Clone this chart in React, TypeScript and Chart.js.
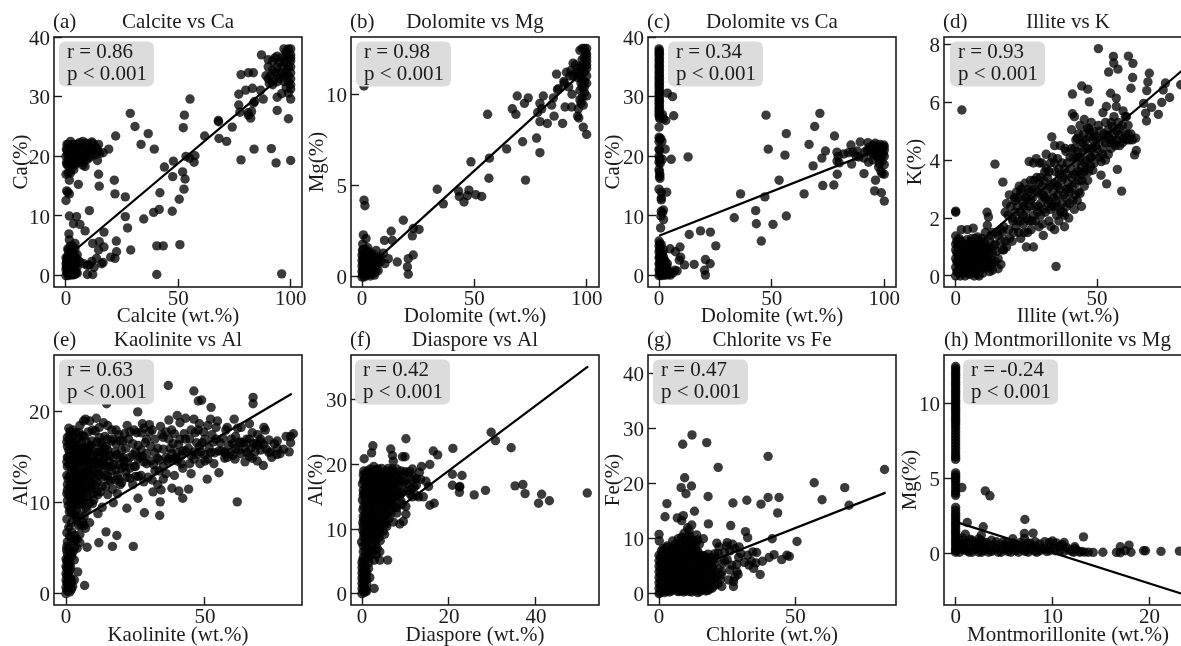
import React, { useEffect, useRef } from "react";
import { Chart, registerables } from "chart.js";

Chart.register(...registerables);

type Pair = [number, number];

const calciteCa: Pair[] = [
  [28.6,27.2],[30.7,25],[36.6,23.8],[33.4,22],[39.3,21.2],[22.1,23.4],[55.2,29.6],[52.7,26.9],[52.2,24.8],[61.7,23.4],[67.8,26],[67.9,25.8],[74,24.9],[68.1,23],[71.5,22.5],[77.9,19.4],[83.7,21.2],[91.4,21.3],[93.5,18.9],[100,19.3],[96,0.3],[99,26.3],[94,27.7],[100,29.6],[96,30.5],[94,29.9],[87.8,29.6],[83.4,28.9],[84,29.2],[77.9,33.7],[81.2,34],[83.4,34],[76.9,30.4],[80,31.1],[83,31.4],[86.6,31.1],[76.9,28.6],[77.4,27.4],[81.2,26.9],[82.6,27.5],[82.2,26.4],[81,27.3],
  [87,37],[90,36.2],[92,36],[94,36.8],[96,36.5],[97,38],[98,37.5],[99,38],[100,38],[100,37],[99,36.5],[100,36],[98,35.5],[96,35],[94,35],[92,34.5],[91,33.5],[90,33],[92,32.5],[94,32.5],[89,33.5],[92,32],[95,33],[97,33.5],[98,34],[100,35],[100,34],[100,33],[99,32.5],[100,32],[98,31.5],[100,31.3],[99,30.6],[97,32.5],[96,34],[94,33.8],[93,34],[90,35],[98,37],[95,35.8],[97,36],[100,36.5],[99,35],[99,33.5],[93,36.5],[90.5,32.2],
  [47.8,19.2],[43.8,18.2],[47.5,16.6],[51.9,17.4],[53,16.2],[52.5,14.5],[53.4,20],[57.4,20.1],[55,19.7],[57,19],[50.4,12.8],[41.8,13.9],[41.5,11.1],[39,10.6],[47.3,10.8],[34.6,9.5],[26.4,13.2],[21.8,13.7],[21.5,16],[14.5,17],[14.8,15],[14,19.3],[5.5,15.3],[10.4,10.9],[26.4,9.9],[27.4,8],[28.8,4.3],[22.4,5.8],[40.4,5],[43.3,5],[50.7,5.2],[40.4,0.2],
  [1.5,10],[4.7,9.9],[3.3,8.7],[6.2,8.6],[8.5,7.5],[16.9,7.3],[11.9,5.4],[14.8,5.7],[16.9,4.8],[14.5,4.3],[22.5,4],[19.9,3.1],[21.8,2.9],[15.9,2],[13.6,2.9],[11.5,2.4],[9.5,0.2],[11.9,0.2],[9.5,1.7],[6.2,2.3],[8,2],[16.5,2.2],[12.5,1.4],[10.5,1.8],
  [0.5,21],[1,22],[1.5,21.5],[2,22.5],[2.5,21],[3,20],[3.5,22],[4,21.3],[4.5,20.5],[5,22],[5.5,21],[6,20],[6.5,22],[7,21.5],[7.5,22.5],[8,20.5],[8,19.2],[9,21],[9.5,19.5],[10,22],[10.5,20.8],[11.5,22.4],[12,21],[12.5,20.2],[13.5,21.5],[14.5,22],[15,20.5],[16.5,20.6],[19,21.2],[0,20],[0.3,19],[0.3,18.7],[1.5,20],[2,19],[3,18.5],[3.5,17.8],[7.5,18.5],[8.5,18.3],[6,19],[5,19.5],[0,17],[1,17.2],[1.5,16],[2,17.2],[0.3,14.2],[0.8,14],[1.5,13.7],[0,12.6],
  [0.8,20.3],[1.8,20.8],[2.8,22],[3.2,19.3],[4.2,21.9],[4.8,19],[5.7,20.2],[6.3,21],[7,19.5],[7.8,21],[8.8,20],[9.3,20.6],[10.5,19.8],[11,21.5],[13,20.5],[14.2,20.9],[0.4,22],[0.2,21.2],[1,18.4],[1.2,19.2],[2.4,18],[2.3,20],[4.2,18.7],[4,20],[6,22.3],[9,22.2],[12,22.2],
  [1.3,7],[1.5,6],[2,5],[1,4.2],[3,5],[4,4.5],[3.5,3.5],[5,3.5],[5.5,2.5],[5,1.5],[5,0.4],[4,0.2],[0,0],[0,1],[0,2],[0.5,0.5],[0.5,1.5],[0.5,2.7],[1,0],[1,1],[1,2],[1,3],[1.5,0.5],[1.5,1.5],[1.5,2.5],[2,0.3],[2,1.2],[2,2],[2,3.2],[2.5,0.8],[2.5,1.7],[3,0.3],[3,1],[3,2.5],[3.5,0.2],[3.5,1.5],[4,1],[4,2.2],[4.5,0.5],[4.5,3],[0,3],[3,4.2],[4,5.4],
  [0.8,4.5],[1.8,3.8],[2.7,4.4],[0.2,1.4],[1.2,0.4],[3.3,2.8],[2.3,2.7],[3.8,3],[4.3,1.8],[0.3,2.3],[0.8,3.3],[1.7,1],[2.7,0.1],[3.7,0.7]
];

const dolomiteMg: Pair[] = [
  [0.9,10.45],[55.9,8.9],[69.1,9.9],[74,9.8],[72.3,9.5],[66.9,9.2],[68.5,8.9],[79.2,9.5],[80.7,9.9],[80,9.2],[78.2,9],[79.2,8.5],[82.5,8.4],[85.2,9.8],[84.4,9.4],[85.5,8.8],[89.3,8.4],[86.6,11.1],[87.4,10.3],[89.9,10.7],[91,11.2],[90.4,9.3],[93.3,9.3],[96.3,9.2],[96,8.8],[96.5,8.7],[98.5,9.4],[100,9.9],[98.5,8.2],[100,7.8],[93.5,10],[77.7,7.6],[79.2,6.8],[71.5,7.4],[64.4,7],[72.8,5.3],[56.7,6.5],[48.5,6.3],[56.5,5.4],[33.5,4.8],[43,4.7],[47.6,4.75],[50.7,4.5],[53.3,4.4],[43.3,4.4],[46.9,4.45],[45.4,4.1],[36.2,4],[18.4,3.1],[22.8,2.65],[25.4,2.6],[22.4,2.25],[13,2.5],[13.5,2],[10,2],[9.5,1.3],[11.7,1],[10.2,0.73],[15.7,0.82],[22.8,1.2],[20.6,1],[20.2,0.55],[20.6,0.15],[0.9,4.2],[1.3,3.9],[0.6,2.3],[1.8,2.1],[0.3,1.8],
  [97,12.4],[98,12.5],[99,12.5],[100,12.5],[100,12.2],[99,12],[98,11.9],[100,11.8],[99,11.5],[100,11.4],[98,11.3],[96,11.2],[94,11.7],[93,11.3],[95,11.6],[92.5,11],[94,11],[96,10.9],[97,11],[98,10.8],[100,11],[99,10.7],[98,10.4],[97,10.2],[99,10.1],[92,10.4],[90,10.6],[97,9.7],[98,9.8],[97.5,9.5],[87,10.25],[100,12],[100,11.6],[99,11.2],[98,11.6],[99.5,12.3],[97,11.5],[99,10.4],[100,10.6],[97.5,10.6],[95,11.2],
  [0,0],[0,0.3],[0,0.6],[0,0.9],[0,1.2],[0.5,1.5],[0.3,0.15],[0.7,0.5],[0.7,0.85],[0.9,1.25],[1,0],[1.2,0.3],[1.3,0.7],[1.4,1.05],[1.5,1.5],[2,0.1],[2.1,0.5],[2.2,0.85],[2.3,1.2],[2.6,1.6],[2.9,0.3],[3,0.7],[3.1,1],[3.3,1.35],[3.7,0.05],[3.9,0.45],[4,0.85],[4.2,1.2],[4.8,0.4],[5,0.8],[5,1.25],[5.6,0.1],[5.8,0.6],[6,1],[6.3,1.45],[7,0.7],[7.3,1],[8,1.1],[8.4,0.85],[1.7,1.3],[0.2,1.45],
  [0.4,0.4],[0.4,0.75],[0.4,1.05],[1,0.15],[1,0.55],[1,0.95],[1.7,0.2],[1.7,0.6],[1.7,0.95],[2.4,0.3],[2.5,0.7],[2.6,1.05],[3.3,0.15],[3.4,0.55],[3.5,0.9],[4.3,0.25],[4.4,0.6],[4.6,1],[5.2,0.2],[5.3,0.6],[5.4,1.05],[6.2,0.35],[6.5,0.8],[7.2,0.35]
];

const dolomiteCa: Pair[] = [
  [0,38],[0,37.4],[0,36.8],[0,36.1],[0,35.4],[0,34.8],[0,34.1],[0,33.4],[0,32.8],[0,32.1],[0,31.5],[0,30.8],[0,30.2],[0,29.5],[0,28.9],[0,28.2],[0,27.5],[0,26.9],[0.3,26.3],[0,24.9],[0,23.2],[0,22.5],[0,21.2],[0,20],[0.4,19.5],[0,19],[0.5,18.8],[0,17.8],[0.4,16.9],[0.4,16.3],[0,14.5],[1,14],[1,13],[1,12.7],[2,11],[1,10.8],[1.5,10.5],[0.8,10],[2,9.4],[0.7,8],[1.5,27],[3,26],[2,26.3],[3.7,30.6],[6,30],[6.5,26.8],[2.7,21.2],[1.5,19.5],[5.4,19.5],[3.4,14],[1.3,22.5],[0.7,23],
  [0.2,37.7],[0.2,37.1],[0.2,36.4],[0.2,35.8],[0.2,35.1],[0.2,34.4],[0.2,33.7],[0.2,33.1],[0.2,32.4],[0.2,31.8],[0.2,31.1],[0.2,30.5],[0.2,29.8],[0.2,29.2],[0.2,28.5],[0.2,27.9],[0.2,27.2],[0.2,26.6],[0.3,22.9],[0.2,21],[0.2,19.6],[0.2,17.4],[0.2,16.6],
  [12.9,19.9],[47.5,26.9],[48.5,21.2],[56.5,23.8],[55.9,20.2],[53.3,16],[36.2,13.7],[47,13.2],[42.9,10.9],[43.2,8.7],[33.4,9.7],[50.6,8.6],[56.5,10],[45.4,5.8],[64.4,13.7],[68.4,18.4],[69.1,25],[71.4,27.2],[66.6,22],[73.9,20.9],[72.3,19.7],[72.7,15.1],[77.6,15.2],[79.1,17],[77.9,23.4],[91,17.1],[96.1,16],[95.7,14.2],[98.7,13.9],[100,12.5],[13.4,6.9],[18.4,7.5],[22.8,7.3],[25.2,5],[20.6,2.7],[22.7,2],[20.2,0.9],[20.6,0.1],[15.6,1.9],[11.3,1.8],[9.3,4.8],[9.6,3.1],[9,2.6],[7.3,4],[4.9,4.5],
  [79,20.7],[79,19.2],[79.5,20],[80,18.9],[82,20.4],[84,20.6],[85.2,21.9],[86,20.7],[85.5,18.7],[87.5,20],[88,20.9],[88.7,19.9],[89.3,22.4],[91,19.7],[91.5,20.8],[92.7,22.3],[93.3,21.5],[93,19],[94,20.6],[95,21.9],[95,19.4],[96,22.2],[96,20.6],[97,21.5],[97.2,19.8],[97.5,18.2],[98,22],[98,20.7],[98.5,17.5],[99,21.6],[99,19.2],[99.5,20.4],[99.8,21.9],[100,21],[100,18.6],[100,17],[97.8,18.8],[100,20],[99,17.1],[92.5,21],[94,21.3],[96,21.2],[97,20.6],[98.5,21.3],[99,20.8],[100,21.6],[95.5,20.2],[98,19.7],
  [0,0],[0,1],[0,2],[0,3],[0,4],[0,5],[0,5.8],[0.5,0.3],[0.5,1.5],[0.5,2.5],[0.5,3.6],[0.5,4.7],[1,0],[1,1],[1,2],[1,3.2],[1,5.2],[1.5,0.5],[1.5,1.5],[1.5,2.6],[1.5,3.7],[2,0.1],[2,1],[2,2],[2,3.1],[2,4.3],[2.5,0.5],[2.5,1.5],[2.7,2.4],[3,0.1],[3,1],[3,2],[3.4,0.4],[3.5,1.3],[3.7,2],[4,0.2],[4,0.9],[4.5,0.5],[5,0.1],[5.5,0.6],[6,0.4],[7,0.9],[8,0.8],[0.3,0.7],[0.3,2],[0.3,3.1],[0.3,4.4],[0.3,5.4],[1.2,0.4],[1.2,1.5],[1.2,2.7],[1.2,3.7],[2.2,0.6],[2.2,1.5],[2.3,2.6],[2.8,1],[3.2,0.6],[3.3,1.6]
];

const illiteK: Pair[] = [
  [50.5,7.85],[55.8,7.58],[55.9,7.35],[57.4,7.14],[54.1,7.04],[61.1,7.59],[62.7,7.34],[62.6,6.85],[62,6.48],[68.5,7],[68,6.7],[67.6,6.4],[74.2,6.66],[73.4,6.42],[75.7,6.16],[79.6,6.6],[72.9,5.99],[66.5,5.96],[67.2,5.62],[67.5,5.35],[69.3,5.82],[71.7,5.58],[44.6,6.56],[46.7,6.45],[41.3,6.28],[47.3,6.01],[54.8,6.31],[56.8,6.14],[56.8,5.85],[53.3,5.85],[52.1,5.64],[59.2,5.7],[60.4,5.5],[2.2,5.73],[13.9,3.86],[16.7,3.24],[35.5,0.33],[58.7,2.93],[57.2,3.68],[53.4,3.18],[51.4,3.48],[63.3,4.18],[63.9,4.33],[63.7,4.76],[0,2.24],[0,2.2],[11.1,2.2],[11.6,2.04],[11.2,1.75],
  [16,1.6],[17,1.7],[18,2.5],[18.5,2.1],[19,2.8],[20,1.2],[20.5,1.5],[21,2.2],[21.5,2.9],[22,1.9],[22.5,3.1],[23,1.3],[23.5,2.6],[24,1.8],[24.5,3.2],[25,2.3],[25,1],[25.5,1.5],
  [26,2.9],[26,3.95],[26.5,3.3],[27,1.9],[27.5,1],[27.5,3.9],[28,2.4],[28.5,4.05],[29,2.9],[29.5,1.7],[30,3.4],[30,2.1],[30.5,3.9],[31,1.4],[31.5,2.7],[32,4.2],[32.5,3],[33,1.9],[33,3.6],[33.5,2.3],[34,4.8],[34.5,3.2],[35,4.5],[35,1.6],[35.5,2.6],[36,3.1],[36,4.05],[36.5,1.9],[37,4.5],[37.5,2.5],
  [38,3.4],[38.5,1.7],[38.5,2.1],[39,3],[39.5,3.9],[40,2],[40.5,2.9],[41,5.05],[41,4.4],[42,3.5],[42,2.3],[42.5,4.7],[43,2.6],[43.5,3.3],[43.5,4.9],[44,5.2],[44,2.85],[44.5,2.4],[44.5,3.8],[45,4.3],[45.5,5.4],[45.5,3.1],[46,4.7],[46.5,5.1],[47,3.6],[47.5,4.1],[48,5.3],[48.5,3.65],[49,4.8],[49.5,4.5],[41.3,5.6],[42,5.5],[43,4.75],
  [51,4.1],[51.5,3.95],[52,4.4],[53,4],[53.5,4.85],[54,5.05],[54.5,4.6],[55,5.3],[55.5,5.15],[56,4.9],[57,4.7],[57.5,5.3],[58,4.85],[59,5.2],[59.5,4.75],[60,5.5],[61,4.9],[61.5,4.7],[62,4.9],[62.5,4.7],
  [17.5,2.2],[18.8,1.6],[19.5,2.4],[20.2,1.9],[20.8,2.7],[21.3,1.7],[21.8,2.4],[22.3,1.5],[22.8,2.2],[23.3,3],[23.8,2.1],[24.2,1.5],[24.7,2.7],[25.2,2],[25.7,3],[26.2,2.4],[26.7,1.6],[27.2,2.7],[27.7,3.3],[28.2,1.9],[28.7,3.4],[29.2,2.4],[29.7,3.9],[30.2,2.8],[30.7,1.8],[31.2,3.3],[31.7,2.2],[32.2,3.7],[32.7,2.5],[33.2,3.1],[33.7,1.7],[34.2,4.1],[34.7,2.7],[35.2,3.6],[35.7,2.1],[36.2,2.8],[36.7,3.5],[37.2,2.2],[37.7,3.9],[38.2,2.8],[38.7,4.4],[39.2,2.4],[39.7,3.2],[40.2,2.5],[40.7,3.7],[41.2,3.1],[41.7,4.1],[42.2,2.8],[42.7,3.9],[43.2,4.3],[43.7,3.6],[44.2,4.6],[44.7,3.3],[45.2,4.9],[45.7,3.9],[46.2,4.4],[46.7,3.3],[47.2,4.8],[47.7,3.8],[48.2,4.4],[48.7,5],[49.2,4.2],[50,4.8],[50.5,5.2],[51.5,4.7],[52.5,4.9],[53,5.3],[54,4.2],[55,4.4],[56,5.5],[56.5,4.5],[58,5.1],[60,4.9],[61,5.2],[59,4.6],[60.5,4.7],[10.5,1.5],[12.5,1.4],[14.5,1.5],[16.5,1.5],[17.5,1.2],[19,1.3],[14,0.5],[12,0.15],
  [20,2],[21,2.6],[22,2.7],[23,1.9],[24,2.4],[25,2.7],[26,1.9],[26.5,2.6],[27.5,2.1],[28,3],[29,2.2],[29.5,3.2],[30,2.5],[30.5,3.1],[31,2.3],[31.5,3.6],[32,2.7],[32.5,3.4],[33,2.6],[33.5,3.9],[34,2.4],[34.5,2.9],[35,3.9],[35.5,3.2],[36,2.4],[36.5,3.7],[37,3],[37.5,3.3],[38,2.2],[38.5,3.7],[39,2.7],[39.5,3.5],[40,3],[40.5,4.1],[41,3.4],[41.5,2.6],[42,4.4],[42.5,3.2],[43,3.6],[43.5,2.9],[44,4.1],[44.5,3.5],[45,4.6],[45.5,3.6],[46,4],[46.5,3.7],[47,4.4],[47.5,5],[48,4.1],[48.5,4.7],[49,3.9],[50,4.4],[51,5],[52,4.2],[53,4.6],[54,4.8],[55,4.7],[56,4.6],[57,5],[58,4.5],[23,2.9],[27,3],[31,2.8],[35,2.4],[39,4.3],[43,4.1],[47,5.1],
  [12,1.2],[13,1.5],[14,1.1],[15,1.4],[16,1.2],[17,0.9],[18,1],[13,0.8],[15,0.6],[16,0.4],[13,0.2],[15,0.25],
  [0,0],[0,0.3],[0,0.6],[0,0.9],[0,1.1],[0,1.38],[0.8,0.15],[0.8,0.45],[0.8,0.75],[0.8,1.05],[1.6,0],[1.6,0.3],[1.6,0.6],[1.6,0.95],[1.6,1.2],[2.4,0.15],[2.4,0.5],[2.4,0.85],[2,1.6],[3.3,0],[3.3,0.35],[3.3,0.7],[3.3,1.05],[4,0.15],[4,0.5],[4,0.9],[4,1.25],[4.1,1.6],[4.9,0.05],[4.9,0.35],[4.9,0.7],[5,1.05],[5.7,0.2],[5.7,0.55],[5.7,0.9],[5.7,1.3],[6.2,1.65],[6.6,0],[6.6,0.35],[6.6,0.75],[6.6,1.1],[7.5,0.15],[7.5,0.5],[7.5,0.85],[7.7,1.35],[8.3,0],[8.4,0.35],[8.4,0.7],[8.4,1.1],[9.2,0.25],[9.2,0.6],[9.2,0.95],[9.3,1.3],[10,0.5],[10,0.85],[10.2,1.15],[10.8,0.3],[10.9,0.65],[11,1],[11.7,0.45],[11.8,0.75],[12.6,0.55],[13.5,1.05],[14.5,0.85],[16.5,0.9],
  [0.4,0.15],[0.4,0.5],[0.4,0.8],[0.4,1.2],[1.2,0.1],[1.2,0.4],[1.2,0.7],[1.2,1.05],[1.2,1.3],[2,0.2],[2,0.55],[2,0.85],[2,1.2],[2.8,0.1],[2.8,0.4],[2.8,0.75],[2.8,1.1],[3.6,0.2],[3.6,0.55],[3.6,0.9],[4.4,0.1],[4.4,0.4],[4.4,0.75],[4.4,1.1],[5.3,0.2],[5.3,0.55],[5.3,0.85],[5.3,1.2],[6.1,0.1],[6.1,0.45],[6.1,0.8],[6.1,1.15],[7,0.25],[7,0.6],[7,0.95],[7,1.3],[7.9,0.05],[7.9,0.4],[7.9,0.75],[7.9,1.1],[8.8,0.2],[8.8,0.5],[8.8,0.85],[8.8,1.2],[9.6,0.1],[9.6,0.4],[9.6,0.75],[9.6,1.05],[10.4,0.35],[10.4,0.7],[10.4,1],[11.3,0.55],[11.3,0.85],[12,0.95],[12.2,0.3],[13,0.45]
];

const kaoliniteAl: Pair[] = [
  [36.8,22.9],[46,22.3],[48.8,21.3],[47.6,21.2],[52.2,20.5],[67.3,21.6],[67.3,20.9],[25.8,20],[14.6,20.9],[10.9,19.3],[61.6,10.1],[50.8,12.6],[55,13.3],[53.2,14.3],[33.7,8.6],[28.2,8.9],[21.9,9.4],[25.9,10.5],[33.9,10.1],[34.2,11.4],[31.3,11.2],[44.1,11.5],[42,10.5],[40.6,11.3],[38.1,11.6],[24.2,5.2],[18.3,6.4],[14.4,6.8],[16.7,5.2],[11.8,5.6],[6.7,0.9],[7.6,5.1],[4.2,2.4],
  [80.8,17.3],[81.8,17.6],[80.8,16.6],[80.3,15.6],[78.2,15.9],[75.8,15.3],[73.6,15.6],[71,14.1],[68.8,14.6],[64.4,14.5],[60.8,14.8],[57.1,14.9],[48.2,14.3],[79.2,17.3],[76,16.8],[73,16.9],[71.7,18],[71.2,18.3],[71,16.4],[70,17],[70,15.8],[68.5,16.5],[67,17.7],[66.5,16],[66,18.7],[65,15.5],[64,16.6],[63,15.4],[62.5,16.7],[61.7,18.2],[61,16],[60.5,19.2],[60,15.2],[59.5,17],[58.5,16.3],[58,18.3],[57.5,15.4],[56.5,17.1],[55.5,16.6],[54.5,19],[54,18.3],[53.5,15.5],[52.5,17.5],[52,19.2],[51.5,16],[51,18.5],[50,15.3],[49.5,17.8],[49,16.6],[48,18.7],[47.5,15.3],[47,16.6],[46,19.2],[46,15.6],[45,18],[44.5,17],[44.5,14.3],[43,19.3],[42.5,17.6],[42,15.7],[42,13.8],[41,18.8],[40.5,16.4],[40,19.6],[40,14.6],[39,17.6],[39,13],[38,15.4],[37,19.1],[37,14.8],[36,17.8],[36,13.2],[35,15.9],[35,12.6],[34.5,17.5],[33.5,14.7],[33,12],[32,15.5],[31.5,14.2],[31,12.5],[30,17.8],[30,18.6],[29,14.3],[28.5,16.6],[28,18.2],[28,12.3],[27,17.7],[26.5,15],[26,12.9],[25.5,17.7],[25,15.6],[24.5,14],[24,12],[23,17.8],[23,15],[22,18.5],[21.5,13.4],[21,17.6],[20.5,15],[20,12.2],[19.5,16.8],[19,14.2],[18.5,11],[18,16.5],[18,13.6],[17,15],[17,10],[16.5,16.8],[16,12.4],[15.5,14.5],[15,18.5],[15,10.9],[14.5,16.2],[14,13],[14,17.3],[13.5,14.8],[13,11.8],[13,9.5],[12.5,16.6],[12,14.4],[12,17.2],[11.5,10.9],[11.5,8.8],[11,13.2],[11,15.5],[10.5,17.9],[10.5,12],[10,14.5],[10,16],[9.5,9.9],[9.5,18],[9,11.5],[9,13.6],[9,15.3],[8.5,7.8],[8.5,19],[8,10.7],[8,12.7],[8,14.6],[8,17.8],[7.5,16.1],[7,19.2],[7,9.5],[7,11.6],[7,13.5],[7,15.4],[6.5,7.5],[6.5,17.3],[6.3,19],[6,10.5],[6,12.4],[6,14.3],[5.5,16.6],[5,18.5],[5,8.7],[5,5.6],[5,11.3],[5,13.2],[5,15.3],[4.5,7.5],[4.5,9.7],[4.5,17.1],[4,6],[4,12],[4,14.1],[4,15.9],[3.5,10.6],[3.5,8.5],[3.5,13],[3.5,17.7],[3,6.4],[3,15],[3,11.5],[3,3.7],[2.5,9.5],[2.5,13.9],[2.5,16.4],[2.5,18],[2,7.8],[2,11],[2,12.5],[2,15],[2,5.8],[1.5,9.3],[1.5,14],[1.5,16.4],[1.5,17.8],[1.2,12.9],[1,10.8],[1,7.3],[1,5],[1,15.8],[1,18.2],[0.3,13],[0.3,8.2],[0.3,5.2],
  [0.5,10.2],[0.5,11.4],[0.5,12],[0.5,14],[0.5,15],[0.5,16.2],[0.5,17.2],[1.2,9],[1.2,11.7],[1.2,14.2],[1.2,16.8],[1.2,17.4],[1.8,10],[1.8,13.2],[1.8,15.2],[1.8,12],[2.3,8.8],[2.3,10.7],[2.3,12.2],[2.3,14.7],[2.3,17.2],[2.8,9.7],[2.8,12.7],[2.8,16],[2.8,13.7],[3.3,11],[3.3,14.2],[3.3,15.4],[3.3,16.7],[3.8,9.2],[3.8,13.4],[3.8,11.8],[4.3,10.3],[4.3,12.6],[4.3,15],[4.3,16.3],[4.8,14.6],[4.8,12],[4.8,17.7],[5.3,9.9],[5.3,15.9],[5.3,10.8],[5.8,13.2],[5.8,11.6],[5.8,15],[6.3,12.9],[6.3,16],[6.3,10],[6.8,14.5],[6.8,12.2],[7.2,16.8],[7.3,10.6],[7.8,13.7],[7.8,15.4],[8.3,11.8],[8.3,16.2],[8.8,14.2],[8.8,12.4],[9.3,16.8],[9.3,13],[9.8,11],[9.8,15],[10.2,13.6],[10.8,14.6],[11.2,12.2],[11.2,16.7],[11.8,13.8],[11.8,15.1],[12.3,11.2],[12.8,15.6],[12.8,12.8],[13.3,13.8],[13.8,16],[14.3,11.8],[14.8,14],[15.3,12.5],[15.8,15.2],[16.3,13.5],[16.8,11.5],[17.3,14.2],[17.8,12.5],[18.3,15.3],[19,12.6],[19.5,15],[20,13.8],[20.8,14.6],[22,14.5],[23,12.7],[24,15.3],[25,14],[26,14.8],[27,13],[27.5,15.1],[29,15.4],[30.5,14.6],[32,13.5],[33,14.9],[35,14],[36.5,14.6],[37.5,16],[38.5,14.8],[40,15.5],[41.5,14.3],[43,15.7],[45,13.2],[46,14.8],[48,16.2],[50,14.6],[52,15.5],[55,15.7],[57,15.6],[58,15],[60,16.5],[62,15.8],[63,16.6],[65,17],[66,15.1],[67,14.9],[68,15.6],[69,16.3],[70,16.7],[72,15.9],[74,15],[76,16],[77,15.4],
  [12,18.3],[13.5,18.8],[14,15.5],[15,17],[16,14],[16.5,18],[17,17],[17.5,15.6],[18,18],[18.5,13],[19,17.5],[19.5,12],[20,15.8],[20.5,16.8],[21,14],[21.5,16],[22,12.8],[22.5,17],[23,13.8],[24,16.5],[24.5,18],[25,12.9],[26,16.3],[27,15.8],[27.5,18.7],[28,14.5],[29,17],[29.5,12.8],[30.5,16.2],[31,18],[32,17],[33,16],[33.5,13.5],[34,18.4],[35,17.2],[36,15],[37,17],[38,18],[38.5,16.5],[39.5,15],[41,17],[41.5,15.2],[43,17],[44,16],[45,15.2],[46.5,17.7],[47.5,18],[48.5,15.6],[50,17],[51,14.8],[53,16.7],[54,17],[56,15.7],[57.5,18],[59,15.5],[61,17.3],[63,18.3],[64.5,16],[66,17],[67.5,16.5],[69,17.5],[73,15.5],[75,16.5],
  [0.3,11],[0.3,14.5],[0.3,16.7],[0.8,9.7],[0.8,12.6],[0.8,15],[1.4,10.6],[1.4,15.5],[2,9],[2,13.9],[2,16.8],[2.5,11.3],[3,8.7],[3,10.3],[3,13],[3.5,15.7],[4,8],[4,10.8],[4,13],[4.5,11.6],[4.5,15.8],[5,10],[5,12.4],[5,14.2],[5.5,17.4],[6,11],[6,13.4],[6,15.6],[6.5,8.5],[7,12.6],[7,14.8],[7.5,9.3],[7.5,11.4],[8,13.4],[8,15.8],[8.5,10],[9,16.3],[9.5,12],[9.5,14.5],[10,10.3],[10,12.8],[11,11.2],[11,14.3],[12,13],[12,15.6],[13,14.3],[13,16.3],[14,15],[15,13],[15,15.8],
  [0,0],[0,0.7],[0,1.5],[0,2.2],[0,3],[0,3.8],[0.5,4.4],[0.7,0.3],[0.7,1.1],[0.7,1.9],[0.7,2.7],[0.7,3.5],[1.4,0.2],[1.4,1],[1.4,1.8],[1.4,2.6],[1.4,3.4],[2,0.5],[2,1.3],[2,4.1],[2.4,0.8],[2.5,4.6],[3,1.5],[3,5],
  [0.3,0.4],[0.3,1.2],[0.3,2],[0.3,2.8],[0.3,3.6],[1,0.6],[1,1.5],[1,2.3],[1,3.1],[1,4],[1.7,0.7],[1.7,1.6],[1.7,2.9],[1.7,4.4],[0.2,4.8],[0.5,5.7],[0.3,6.7],[1.3,6.3],[2,6.8],[3,5.8],[3.5,6],[4,5],[5,6.5],[5.5,7.5],[6,7.9],[7,7.2]
];

const diasporeAl: Pair[] = [
  [0.5,20.9],[2.5,22.9],[2.2,21.8],[6.6,22.4],[7,21.4],[7.2,20.5],[9.3,21.2],[9.9,21.2],[10.1,24],[16.4,22.1],[17.4,21.5],[20.9,22.5],[20.8,18.5],[23,18.3],[20.8,16.8],[22.5,16.6],[22.4,16.5],[22.4,15.7],[25.8,15.3],[28.4,16],[29.7,25],[30.7,23.7],[34.3,22.6],[35.2,16.7],[37,16.9],[37.5,15.5],[41.3,15.4],[40.6,14],[43.1,14.4],[51.8,15.6],[15.6,13.7],[16.6,14],[15.6,20],[13.7,19.7],[15.3,16.6],[14.1,15],[13,15],[14.7,17.4],[13.2,18.8],[11.6,19.3],[11.4,17.7],[11.4,16.3],[10.1,13.5],[10.1,12.3],[9.5,11.2],[8.7,10.8],[7.2,11.1],[5.5,10.8],[5.9,5.2],[4.1,5.2],[4.1,6.5],[2.8,5.2],[2.8,0.8],[1.8,2.5],[3.5,7],[-0.1,8],
  [12.5,16.8],[11,18.9],[10,18.9],[9,19],[9.5,17.2],[9,15.5],[9.2,13.8],[8,12.5],[8.2,17.5],[8,19.3],[7,19.3],[7.2,15.5],[7,13.7],[6.8,17.6],[6,19.4],[6.2,16.7],[6,14.5],[5.7,12.4],[5.2,18.3],[5,16],[5,13.7],[4.8,11.2],[4.5,19.4],[4.3,17.2],[4,15],[4,12.8],[4,9.5],[3.5,19],[3.5,18],[3.4,16],[3.2,13.8],[3.2,11.5],[3,8.5],[2.7,19.7],[2.6,17.4],[2.5,15],[2.5,12.6],[2.4,10.3],[2.2,7.5],[2,18.7],[1.9,16.4],[1.8,14],[1.7,11.6],[1.6,9.5],[1.5,6.2],[1.2,19],[1.1,17.4],[1,15.3],[1,13],[1,10.8],[0.9,8.7],[0.5,17.8],[0.3,16],[0.1,17],[0.1,14.5],[0.2,13],[0.2,11],[0.2,9.8],[0.9,5.2],[0.2,5.2],
  [0.3,18.4],[0.3,15.2],[0.3,12],[0.3,10.5],[0.4,8.7],[0.8,18.5],[0.8,16.5],[0.7,14.2],[0.7,12.3],[0.7,11.3],[0.7,9.5],[0.7,7.7],[1.3,18.2],[1.3,16],[1.3,14],[1.3,12],[1.3,10],[1.3,8],[1.3,7],[1.9,19.3],[1.9,17.3],[1.9,15.2],[1.9,13],[1.9,10.7],[1.9,8.7],[2.3,18],[2.3,16],[2.3,14.2],[2.3,11.8],[2.3,9.2],[2.9,18.7],[2.9,16.7],[2.9,14.5],[2.9,12],[2.9,9.7],[3.2,7.4],[3.4,17.2],[3.4,14.8],[3.4,12.4],[3.5,10],[3.9,18.5],[3.9,16],[3.9,13.7],[3.9,11.2],[3.9,8.7],[4.4,18],[4.4,15.5],[4.4,13.5],[4.4,10.7],[4.9,17.5],[4.9,14.7],[4.9,12.2],[4.9,9.7],[5.4,18.9],[5.4,16.8],[5.4,14.6],[5.4,11.7],[5.9,17.7],[5.9,15.5],[5.9,13.2],[6.4,18.5],[6.4,16],[6.4,13.8],[6.8,18.9],[7,17],[7.2,14.5],[7.5,18.5],[7.5,16.2],[8,15],[8,13.3],[8.5,18],[8.5,16.7],[9,14.3],[10,17.5],[10.5,16],[11,15.5],[12,18],[12.5,15.2],[13.5,17.7],
  [0.4,9.3],[0.4,11.5],[0.4,13.5],[0.4,15.6],[0.4,17.5],[0.4,19],[0.9,10.2],[0.9,12],[0.9,14.7],[0.9,16],[0.9,17.6],[1.5,9],[1.5,11],[1.5,13],[1.5,15],[1.5,17],[1.5,18.6],[2,8.3],[2,10],[2,12],[2,14.5],[2,16],[2,18],[2.6,9],[2.6,11],[2.6,13.3],[2.6,15.7],[2.6,18.2],[3.1,8.2],[3.1,10.5],[3.1,12.7],[3.1,15],[3.1,17],[3.1,19.2],[3.7,9.3],[3.7,11.8],[3.7,14.3],[3.7,16.7],[3.7,19.3],[4.2,8.2],[4.2,10.2],[4.2,12.2],[4.2,14.5],[4.2,16.5],[4.2,18.8],[4.7,10.8],[4.7,13],[4.7,15.2],[4.7,18],[5.2,9.2],[5.2,11],[5.2,13.2],[5.2,15.5],[5.2,17.7],[5.7,10.4],[5.7,14],[5.7,16.2],[5.7,19],[6.2,11.6],[6.2,13],[6.2,15.2],[6.2,18],[6.7,12.5],[6.7,14.5],[6.7,16.5],[7,19],[7.5,13.5],[7.5,15],[7.5,17.3],[8,16.2],[8,18.4],[8.7,15.2],[8.7,17.5],[9.5,15.8],[9.5,18.4],[10.5,17],[10.5,18.7],[11.5,15],[12,16.5],[12.5,17.8],
  [0,0],[0,0.8],[0,1.6],[0,2.4],[0,3.2],[0,4],[0,4.8],[0.6,0.2],[0.6,1],[0.6,1.8],[0.6,2.6],[0.6,3.4],[0.6,4.2],[1.1,0.4],[1.1,1.4],[1.1,2.2],[1.1,3.1],[1.5,3.9],[1.6,4.8],
  [0.3,0.4],[0.3,1.2],[0.3,2],[0.3,2.8],[0.3,3.6],[0.3,4.4],[0.3,5.6],[0.3,6.5],[0.3,7.4],[0.8,0.6],[0.8,2.2],[0.8,3],[0.8,3.8],[0.8,6.5],[1.3,5.7],[1.8,6.7],[2.3,6],[2.7,6.8],[3.3,6]
];

const chloriteFe: Pair[] = [
  [12.1,28.9],[8.7,27.2],[17.5,27.5],[21.7,23],[40,25],[82.7,22.6],[56.9,20.2],[59.8,17.1],[68.1,19.3],[69.7,16.1],[9.4,21.1],[8.1,19.3],[11.9,19.6],[9.9,18.2],[18,17.7],[2.9,16.4],[13,15],[2.2,14],[6.7,13.8],[8.9,14.2],[8.3,13.3],[12,12.5],[18.1,12.7],[26.3,12.4],[27.1,16.5],[32.2,17],[37.4,16.3],[40,17.5],[44,17.5],[43.5,14.7],[31.7,11.3],[32.5,10.2],[41.5,10],[50.6,9.5],[0,10.8],[0.1,9.6],[37.1,3.5],[34.7,4.6],[33.9,5.9],[37.9,5.9],[40.4,6.6],[42.2,7.1],[45,6.2],[46.9,7],[47.8,6.8],[34.4,7.6],[32.5,7],[31.3,5.7],[29.2,6.6],[29.4,8.5],[27.9,8.2],[25,9.3],[21.2,9.2],[27.3,1.3],[27.3,2.2],[28.6,4],[26.7,5.2],[23,1.3],[23,4],[16.3,10],[13.8,10.7],[11,11.5],[9.2,11],[7,10],[5,9.6],[3,8.7],[1.5,8.2],[14.2,9.8],[10.5,12],[22,8.5],[24.8,8.7],[29,3.5],[27.8,3],[24,6],[21,3.1],[20.5,1.5],[20.5,7.3],[35.8,7.5],
  [0,0],[0,1],[0,2],[0,3],[0,4],[0,5],[0,6],[0,7],[0.9,7.8],[1,0.5],[1,1.5],[1,2.6],[1,3.6],[1,4.7],[1,5.8],[1,6.9],[2,0.2],[2,1.2],[2,2.2],[2,3.3],[2,4.4],[2,5.5],[2,6.6],[3,0.7],[3,1.8],[3,2.9],[3,4],[3,5.1],[3,6.2],[3,7.4],[4.5,0.5],[4.5,1.5],[4.5,2.7],[4.5,3.8],[4.5,4.9],[4.5,6],[4.5,7.1],[4.8,8.3],[6,0.9],[6,2.2],[6,3.3],[6,4.4],[6,5.6],[6,6.7],[6,8.1],[7.5,0.4],[7.5,1.7],[7.5,2.9],[7.5,4],[7.5,5.2],[7.5,6.3],[7.5,7.5],[7.5,9.2],[9,0.3],[9,1.3],[9,2.4],[9,3.5],[9,4.7],[9,5.9],[9,7],[9,8.3],[9.3,9.7],[10.5,0.8],[10.5,2],[10.5,3.1],[10.5,4.3],[10.5,5.4],[10.5,6.6],[10.5,7.8],[10.5,9],[10.5,10.4],[12,0.3],[12,1.5],[12,2.6],[12,3.7],[12,4.9],[12,6.1],[12,7.3],[12,8.5],[12,9.8],[13.5,0.6],[13.5,1.9],[13.5,3.1],[13.5,4.3],[13.5,5.5],[13.5,6.7],[13.5,8],[13.5,9.2],[15,0.4],[15,1.4],[15,2.6],[15,3.8],[15,5],[15,6.3],[15,7.1],[16.5,0.9],[16.5,2.1],[16.5,3.3],[16.5,4.5],[16.5,5.7],[16.5,6.9],[18,0.6],[18,1.6],[18,2.9],[18,4.1],[18,5.2],[18,6.4],[18,7.2],[19.5,1],[19.5,2.3],[19.5,3.5],[19.5,4.6],[19.5,5.8],[21,6.5],[22.5,2.6],[22.8,3.4],[25,6.2],[26,7.8],
  [0.5,0.2],[0.5,1.3],[0.5,2.3],[0.5,3.4],[0.5,4.4],[0.5,5.5],[0.5,6.6],[1.5,0.9],[1.5,2],[1.5,3],[1.5,4.1],[1.5,5.2],[1.5,6.4],[1.5,7.4],[2.5,0.5],[2.5,1.6],[2.5,2.7],[2.5,3.7],[2.5,4.9],[2.5,6],[2.5,7.2],[2.8,8.4],[3.8,0.3],[3.8,1.3],[3.8,2.3],[3.8,3.4],[3.8,4.5],[3.8,5.6],[3.8,6.7],[3.8,7.8],[5.2,0.9],[5.2,2],[5.2,3.2],[5.2,4.3],[5.2,5.4],[5.2,6.5],[5.2,7.6],[5.7,8.9],[6.8,0.4],[6.8,1.5],[6.8,2.7],[6.8,3.8],[6.8,4.9],[6.8,6],[6.8,7.1],[6.8,8.4],[8.2,0.6],[8.2,1.9],[8.2,3],[8.2,4.2],[8.2,5.3],[8.2,6.5],[8.2,7.7],[8.2,8.9],[8.3,10.3],[9.8,0.5],[9.8,1.7],[9.8,2.9],[9.8,4],[9.8,5.2],[9.8,6.3],[9.8,7.4],[9.8,8.7],[9.8,10],[11.2,0.4],[11.2,1.2],[11.2,2.4],[11.2,3.6],[11.2,4.8],[11.2,6],[11.2,7.1],[11.2,8.3],[11.2,9.6],[11.2,10.6],[12.8,0.9],[12.8,2.1],[12.8,3.3],[12.8,4.5],[12.8,5.8],[12.8,7],[12.8,8.2],[12.8,9.5],[14.2,0.2],[14.2,1.3],[14.2,2.7],[14.2,3.9],[14.2,5.2],[14.2,6.4],[14.2,7.7],[14.8,9],[15.7,0.7],[15.7,1.9],[15.7,3.2],[15.7,4.4],[15.7,5.6],[15.7,6.8],[17.2,0.5],[17.2,1.4],[17.2,2.6],[17.2,3.9],[17.2,5],[17.2,6.2],[18.8,1],[18.8,2.1],[18.8,3.3],[18.8,4.4],[18.8,5.5],[18.8,6.6],[20.3,2.7],[20.3,4.1],[20.3,5.5],[21.7,1.8],[21.7,4.5],[21.7,7.3],[23.5,5.5],[24,7.5],[25.5,2.5],[26,4.3],[27,9],[28.5,5.3],[30,7.3],[33,5.2],[35.5,5.6]
];

const montmorilloniteMg: Pair[] = [
  [0,12.5],[0,12.2],[0,11.9],[0,11.6],[0,11.3],[0,11],[0,10.7],[0,10.4],[0,10.1],[0,9.8],[0,9.5],[0,9.2],[0,8.9],[0,8.6],[0,8.2],[0,7.8],[0,7.4],[0,7],[0,6.6],[0,6.3],[0,5.4],[0,5.1],[0,4.8],[0,4.4],[0,4.2],[0,3.9],[0,3.1],[0,2.7],[0,2.4],[0,2.1],[0,1.8],[0,1.5],[0,1.2],[0,0.9],[0,0.6],[0,0.3],[0,0.1],
  [0,12.35],[0,12.05],[0,11.75],[0,11.45],[0,11.15],[0,10.85],[0,10.55],[0,10.25],[0,9.95],[0,9.65],[0,9.35],[0,9.05],[0,8.75],[0,8.4],[0,8],[0,7.6],[0,7.2],[0,6.8],[0,6.45],[0,5.25],[0,4.95],[0,4.6],[0,4.05],[0,2.9],[0,2.55],[0,2.25],[0,1.95],[0,1.65],[0,1.35],[0,1.05],[0,0.75],[0,0.45],[0,0.2],
  [0.65,4.42],[3.06,4.2],[3.54,3.87],[7.15,2.29],[1.2,2.09],[2.85,1.8],[8,1.38],[7.1,1.36],[7.1,1.02],[13.2,1.13],[1,1.3],[2.65,1.24],[5.9,1],[11.2,0.75],[10.4,0.73],[12.3,0.47],[13.3,0.11],[13.7,0.1],[14.2,0.09],[15.2,0.1],[16.6,0.09],[17,0.47],[17.9,0.58],[17,0.07],[17.5,0.2],[18.1,0.1],[19.4,0.2],[19.6,0.2],[21.2,0.16],[23.1,0.18],
  [0.4,0.1],[0.4,0.5],[0.4,0.9],[0.9,0.25],[0.9,0.7],[1.4,0.1],[1.4,0.5],[1.5,0.95],[1.9,0.3],[1.9,0.75],[2.4,0.1],[2.4,0.5],[2.4,1],[2.9,0.25],[2.9,0.7],[3.4,0.1],[3.4,0.5],[3.7,0.9],[3.9,0.25],[4.4,0.1],[4.4,0.6],[4.9,0.3],[4.9,0.8],[5.4,0.15],[5.4,0.55],[5.9,0.3],[6,0.7],[6.5,0.1],[6.5,0.5],[7,0.25],[7.4,0.7],[7.5,0.1],[7.9,0.45],[8.2,0.8],[8.4,0.1],[8.9,0.4],[9.2,0.8],[9.4,0.15],[9.8,0.55],[10,0.85],[10.3,0.2],[10.7,0.5],[11.2,0.15],[11.5,0.4],[12,0.15],[12.5,0.25],[12.8,0.1],
  [0.2,0.3],[0.2,0.7],[0.7,0.3],[0.7,0.65],[0.7,1.05],[1.2,0.2],[1.2,0.75],[1.7,0.1],[1.7,0.55],[1.7,0.9],[2.2,0.3],[2.2,0.75],[2.7,0.1],[2.7,0.5],[2.7,0.85],[3.2,0.3],[3.2,0.75],[3.7,0.15],[3.7,0.55],[4.2,0.35],[4.2,0.8],[4.7,0.1],[4.7,0.55],[5.2,0.3],[5.2,0.7],[5.7,0.1],[5.7,0.5],[6.2,0.2],[6.2,0.6],[6.7,0.35],[6.7,0.75],[7.2,0.15],[7.2,0.5],[7.7,0.3],[7.7,0.7],[8.2,0.15],[8.2,0.5],[8.7,0.2],[8.7,0.65],[9.2,0.3],[9.7,0.2],[9.7,0.75],[10.2,0.4],[10.8,0.2],[11,0.6],[11.7,0.25],[12.2,0.1],[12.3,0.35],[13,0.15]
];

const xTicks50 = [0, 50, 100];
const xTicks50Short = [0, 50];
const xTicksDiaspore = [0, 20, 40];
const xTicksMont = [0, 10, 20];
const yTicksCa = [0, 10, 20, 30, 40];
const yTicksMg = [0, 5, 10];
const yTicksK = [0, 2, 4, 6, 8];
const yTicksAlKao = [0, 10, 20];
const yTicksAlDia = [0, 10, 20, 30];
const yTicksFe = [0, 10, 20, 30, 40];

const FONT = '"Liberation Serif"';
const INK = "#1c1c1c";
const PLOT_W = 248;
const PLOT_H = 250;
const PAD_LEFT = 50;
const PAD_RIGHT = 24;
const PAD_BOTTOM = 42;
const PAD_TOP = 37;

type Panel = {
  tag: string; title: string; xLabel: string; yLabel: string; r: string;
  pts: Pair[]; fit: Pair[]; xr: Pair; yr: Pair; xt: number[]; yt: number[];
  left: number; top: number; boxDx: number; yPad: number; xPad: number; start?: boolean;
};

const panels: Panel[] = [
  { tag: "(a)", title: "Calcite vs Ca", xLabel: "Calcite (wt.%)", yLabel: "Ca(%)", r: "r = 0.86", pts: calciteCa, fit: [[0,3],[100,34.7]], xr: [-5.34,105.04], yr: [-1.9,40], xt: xTicks50, yt: yTicksCa, left: 54, top: 0, boxDx: 5, yPad: 5, xPad: 0 },
  { tag: "(b)", title: "Dolomite vs Mg", xLabel: "Dolomite (wt.%)", yLabel: "Mg(%)", r: "r = 0.98", pts: dolomiteMg, fit: [[0,0.22],[100,11.4]], xr: [-4.9,105.5], yr: [-0.55,13.13], xt: xTicks50, yt: yTicksMg, left: 351, top: 0, boxDx: 5, yPad: 4, xPad: 0 },
  { tag: "(c)", title: "Dolomite vs Ca", xLabel: "Dolomite (wt.%)", yLabel: "Ca(%)", r: "r = 0.34", pts: dolomiteCa, fit: [[0,6.7],[100,21.5]], xr: [-4.9,105.2], yr: [-1.9,40], xt: xTicks50, yt: yTicksCa, left: 648, top: 0, boxDx: 20, yPad: 3, xPad: 0 },
  { tag: "(d)", title: "Illite vs K", xLabel: "Illite (wt.%)", yLabel: "K(%)", r: "r = 0.93", pts: illiteK, fit: [[0,0.45],[85,7.5]], xr: [-4.13,83.6], yr: [-0.38,8.25], xt: xTicks50Short, yt: yTicksK, left: 944, top: 0, boxDx: 6, yPad: 9, xPad: 0 },
  { tag: "(e)", title: "Kaolinite vs Al", xLabel: "Kaolinite (wt.%)", yLabel: "Al(%)", r: "r = 0.63", pts: kaoliniteAl, fit: [[0,7.3],[81.2,22]], xr: [-4.32,84.9], yr: [-1.25,26.26], xt: xTicks50Short, yt: yTicksAlKao, left: 54, top: 318, boxDx: 5, yPad: 5, xPad: -1 },
  { tag: "(f)", title: "Diaspore vs Al", xLabel: "Diaspore (wt.%)", yLabel: "Al(%)", r: "r = 0.42", pts: diasporeAl, fit: [[0,9],[52,35.2]], xr: [-2.53,54.5], yr: [-1.75,36.96], xt: xTicksDiaspore, yt: yTicksAlDia, left: 351, top: 318, boxDx: 4, yPad: 3, xPad: -1 },
  { tag: "(g)", title: "Chlorite vs Fe", xLabel: "Chlorite (wt.%)", yLabel: "Fe(%)", r: "r = 0.47", pts: chloriteFe, fit: [[0,2.2],[83.1,18.4]], xr: [-4.04,86.9], yr: [-2.06,43.45], xt: xTicks50Short, yt: yTicksFe, left: 648, top: 318, boxDx: 5, yPad: 3, xPad: -1 },
  { tag: "", title: "(h) Montmorillonite vs Mg", xLabel: "Montmorillonite (wt.%)", yLabel: "Mg(%)", r: "r = -0.24", pts: montmorilloniteMg, fit: [[0,2.13],[24.4,-2.89]], xr: [-1.2,24.4], yr: [-3.42,13.27], xt: xTicksMont, yt: yTicksMg, left: 944, top: 318, boxDx: 19, yPad: 4, xPad: -1, start: true },
];

function PanelChart({ p }: { p: Panel }) {
  const ref = useRef<HTMLCanvasElement>(null);
  useEffect(() => {
    const overlay = {
      id: "overlay",
      afterDraw(chart: any) {
        const { ctx, chartArea: a } = chart;
        ctx.save();
        const bx = a.left + p.boxDx, by = a.top + 4.5;
        ctx.fillStyle = "#dcdcdc";
        ctx.beginPath();
        ctx.roundRect(bx, by, 95, 45, 6);
        ctx.fill();
        ctx.fillStyle = INK;
        ctx.font = `21px ${FONT}`;
        ctx.textBaseline = "middle";
        ctx.textAlign = "left";
        ctx.fillText(p.r, bx + 8, by + 11);
        ctx.fillText("p < 0.001", bx + 8, by + 33);
        if (p.tag) ctx.fillText(p.tag, a.left - 1, a.top - 15);
        ctx.strokeStyle = INK;
        ctx.lineWidth = 1.6;
        ctx.strokeRect(a.left, a.top, a.right - a.left, a.bottom - a.top);
        ctx.restore();
      },
    };
    const chart = new Chart(ref.current as HTMLCanvasElement, {
      type: "scatter",
      data: {
        datasets: [
          { data: p.fit.map(([x, y]) => ({ x, y })), showLine: true, pointRadius: 0, borderColor: "#000", borderWidth: 2.2, clip: false },
          { data: p.pts.map(([x, y]) => ({ x, y })), pointRadius: 4.7, pointBorderWidth: 0, pointBackgroundColor: "rgba(0,0,0,0.77)", clip: false },
        ],
      },
      options: {
        animation: false,
        responsive: false,
        events: [],
        layout: { padding: { left: 0, right: PAD_RIGHT, top: 0, bottom: 0 } },
        plugins: {
          legend: { display: false },
          tooltip: { enabled: false },
          title: {
            display: true, text: p.title, fullSize: false, align: p.start ? "start" : "center", color: INK,
            font: { family: FONT, size: 21, weight: "normal" }, padding: { top: 9.4, bottom: 2.4 },
          },
        },
        scales: {
          x: {
            type: "linear", min: p.xr[0], max: p.xr[1],
            afterBuildTicks: (s: any) => { s.ticks = p.xt.map((value) => ({ value })); },
            afterFit: (s: any) => { s.height = PAD_BOTTOM; },
            grid: { drawOnChartArea: false, tickLength: -8, tickColor: INK, tickWidth: 1.4 },
            border: { display: false },
            ticks: { color: INK, font: { family: FONT, size: 21 }, padding: 8, autoSkip: false, maxRotation: 0, callback: (v: any) => String(v) },
            title: { display: true, text: p.xLabel, color: INK, font: { family: FONT, size: 21 }, padding: { top: 0, bottom: p.xPad } },
          },
          y: {
            type: "linear", min: p.yr[0], max: p.yr[1],
            afterBuildTicks: (s: any) => { s.ticks = p.yt.map((value) => ({ value })); },
            afterFit: (s: any) => { s.width = PAD_LEFT; },
            grid: { drawOnChartArea: false, tickLength: -8, tickColor: INK, tickWidth: 1.4 },
            border: { display: false },
            ticks: { color: INK, font: { family: FONT, size: 21 }, padding: 12, labelOffset: 2, autoSkip: false, callback: (v: any) => String(v) },
            title: { display: true, text: p.yLabel, color: INK, font: { family: FONT, size: 21 }, padding: { top: p.yPad, bottom: 0 } },
          },
        },
      } as any,
      plugins: [overlay],
    });
    return () => chart.destroy();
  }, [p]);
  const w = PAD_LEFT + PLOT_W + PAD_RIGHT;
  const h = PAD_TOP + PLOT_H + PAD_BOTTOM;
  return (
    <canvas
      ref={ref}
      width={w}
      height={h}
      style={{ position: "absolute", left: p.left - PAD_LEFT, top: p.top, width: w, height: h, display: "block" }}
    />
  );
}

export default function App() {
  return (
    <div style={{ position: "fixed", left: 0, top: 0, width: 1181, height: 646, overflow: "hidden", background: "#fff" }}>
      {panels.map((p) => (
        <PanelChart key={p.title} p={p} />
      ))}
    </div>
  );
}
